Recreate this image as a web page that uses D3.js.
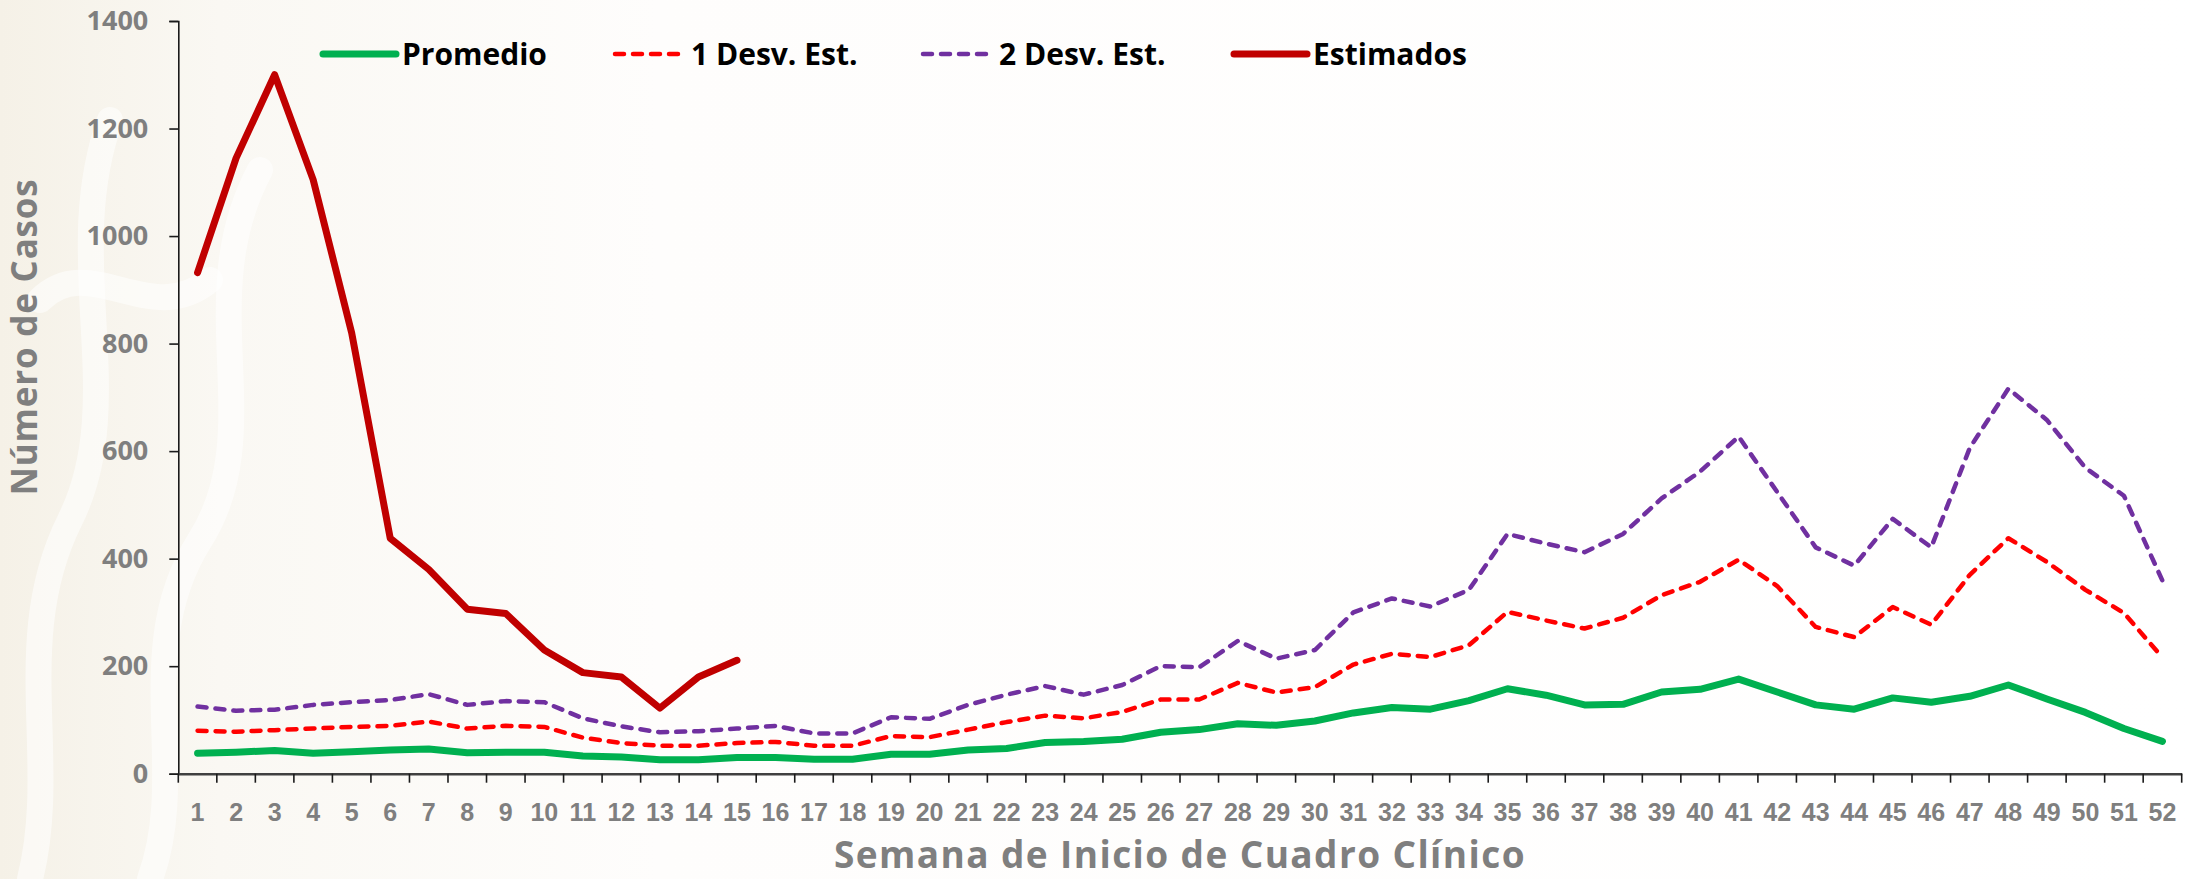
<!DOCTYPE html>
<html>
<head>
<meta charset="utf-8">
<script src="https://cdn.jsdelivr.net/npm/d3@7"></script>
<style>
  html, body { margin: 0; padding: 0; background: #ffffff; }
  svg { display: block; }
</style>
</head>
<body>
<svg id="chart" width="2192" height="879"></svg>
<script>
// ---------------- DATA ----------------
const weeks = ["1","2","3","4","5","6","7","8","9","10","11","12","13","14","15","16","17","18","19","20",
  "21","22","23","24","25","26","27","28","29","30","31","32","33","34","35","36","37","38","39","40",
  "41","42","43","44","45","46","47","48","49","50","51","52"];

const promedio = [38,40,43,38,41,44,46,39,40,40,33,31,26,26,30,30,27,27,36,36,
  44,47,58,60,64,77,82,93,90,98,113,123,120,136,158,146,128,129,152,157,
  176,152,128,120,141,133,144,165,139,114,84,60];

const desv1 = [80,78,81,84,87,89,97,84,89,87,67,57,52,52,57,59,52,52,70,68,
  82,96,108,103,115,138,138,169,151,161,203,223,217,239,301,285,270,290,332,357,
  398,349,273,254,310,277,370,438,394,342,299,216];

const desv2 = [125,117,119,128,133,137,148,128,135,133,103,88,77,79,84,89,75,75,105,102,
  128,147,163,147,165,200,198,247,214,230,300,326,311,342,446,428,412,446,512,562,
  627,524,421,387,474,421,606,716,658,569,517,359];

const estimados = [932,1145,1300,1105,820,438,380,306,298,230,188,180,122,180,211];

const yTicks = [0,200,400,600,800,1000,1200,1400];

const seriesNames = ["Promedio","1 Desv. Est.","2 Desv. Est.","Estimados"];
const seriesColors = ["#00B050","#FF0000","#7030A0","#C00000"];

// ---------------- LAYOUT ----------------
const svg = d3.select("#chart");
const W = 2192, H = 879;
const mLeft = 178.3, mRight = 2181.7, mTop = 21, mBottom = 773.7;

// faint background watermark (decorative)
const defs = svg.append("defs");
const grad = defs.append("linearGradient").attr("id","wmGrad").attr("x1","0").attr("x2","1").attr("y1","0").attr("y2","0");
grad.append("stop").attr("offset","0").attr("stop-color","#F5F1E7");
grad.append("stop").attr("offset","0.1").attr("stop-color","#FAF8F3");
grad.append("stop").attr("offset","0.3").attr("stop-color","#FEFDFC");
grad.append("stop").attr("offset","1").attr("stop-color","#FFFFFF");
const bg = svg.append("g").attr("class","watermark");
bg.append("rect").attr("width",W).attr("height",H).attr("fill","url(#wmGrad)");
const wmPaths = [
  "M30,879 C60,760 10,640 70,520 C130,400 60,260 110,120",
  "M150,879 C190,770 130,650 200,540 C270,430 190,300 260,170",
  "M40,300 C90,250 150,330 210,280"
];
bg.selectAll("path").data(wmPaths).join("path")
  .attr("d", d => d)
  .attr("fill","none")
  .attr("stroke","#FFFFFF")
  .attr("stroke-width",26)
  .attr("stroke-linecap","round")
  .attr("opacity",0.55);

// scales
const x = d3.scaleBand().domain(weeks).range([mLeft,mRight]).padding(0);
const xc = d => x(d) + x.bandwidth()/2;
const y = d3.scaleLinear().domain([0,1400]).range([mBottom, mTop]);

// ---------------- AXES ----------------
const yAxis = d3.axisLeft(y).tickValues(yTicks).tickSize(9).tickPadding(21).tickFormat(d3.format("d"));
const gy = svg.append("g").attr("transform",`translate(${mLeft},0)`).call(yAxis);
gy.select(".domain").attr("stroke","#1a1a1a").attr("stroke-width",1.6);
gy.selectAll(".tick line").attr("stroke","#1a1a1a").attr("stroke-width",1.6);
gy.selectAll(".tick text")
  .attr("fill","#7F7F7F")
  .style("font-family","'Open Sans', sans-serif")
  .style("font-weight","700")
  .style("font-size","27px");

const gx = svg.append("g").attr("class","xaxis");
const xAxis = d3.axisBottom(x).tickSize(0).tickPadding(30);
const gxa = gx.append("g").attr("transform",`translate(0,${mBottom})`).call(xAxis);
gxa.select(".domain").attr("stroke","#404040").attr("stroke-width",2.4);
gxa.selectAll(".tick text")
  .attr("fill","#7F7F7F")
  .attr("dy","0")
  .attr("y",47)
  .style("font-family","'Liberation Sans', Arial, sans-serif")
  .style("font-weight","700")
  .style("font-size","25px");
const boundaries = weeks.map(w => x(w)).concat([x(weeks[weeks.length-1]) + x.bandwidth()]);
gx.selectAll("line.btick").data(boundaries).join("line")
  .attr("class","btick")
  .attr("x1",d=>d).attr("x2",d=>d)
  .attr("y1",mBottom).attr("y2",mBottom+9)
  .attr("stroke","#1a1a1a").attr("stroke-width",1.6);

// axis titles
svg.append("text")
  .attr("transform","translate(37,337) rotate(-90)")
  .attr("text-anchor","middle")
  .attr("fill","#7F7F7F")
  .style("font-family","'Open Sans', sans-serif")
  .style("font-weight","700")
  .style("font-size","35px")
  .style("letter-spacing","0.8px")
  .text("Número de Casos");

svg.append("text")
  .attr("x",(mLeft+mRight)/2).attr("y",868)
  .attr("text-anchor","middle")
  .attr("fill","#7F7F7F")
  .style("font-family","'Open Sans', sans-serif")
  .style("font-weight","700")
  .style("font-size","37px")
  .style("letter-spacing","1.4px")
  .text("Semana de Inicio de Cuadro Clínico");

// ---------------- LINES ----------------
const line = d3.line().x(d => xc(d.w)).y(d => y(d.v));
const toPts = arr => arr.map((v,i) => ({w: weeks[i], v}));

const plot = svg.append("g");
plot.append("path").datum(toPts(desv2))
  .attr("d",line).attr("fill","none")
  .attr("stroke",seriesColors[2]).attr("stroke-width",4.5)
  .attr("stroke-dasharray","9,9").attr("stroke-linecap","round").attr("stroke-linejoin","round");
plot.append("path").datum(toPts(desv1))
  .attr("d",line).attr("fill","none")
  .attr("stroke",seriesColors[1]).attr("stroke-width",4.5)
  .attr("stroke-dasharray","9,9").attr("stroke-linecap","round").attr("stroke-linejoin","round");
plot.append("path").datum(toPts(promedio))
  .attr("d",line).attr("fill","none")
  .attr("stroke",seriesColors[0]).attr("stroke-width",7)
  .attr("stroke-linecap","round").attr("stroke-linejoin","round");
plot.append("path").datum(toPts(estimados))
  .attr("d",line).attr("fill","none")
  .attr("stroke",seriesColors[3]).attr("stroke-width",7)
  .attr("stroke-linecap","round").attr("stroke-linejoin","round");

// ---------------- LEGEND ----------------
const legendX = [323, 615, 923, 1234];
const legend = svg.append("g").attr("class","legend");
seriesNames.forEach((name,i) => {
  const g = legend.append("g").attr("transform",`translate(${legendX[i]},54)`);
  const dashed = (i===1 || i===2);
  g.append("line").attr("x1",0).attr("x2",dashed?70:73).attr("y1",0).attr("y2",0)
    .attr("stroke",seriesColors[i]).attr("stroke-width",dashed?4.5:7)
    .attr("stroke-linecap","round")
    .attr("stroke-dasharray",dashed?"9,9":null);
  g.append("text").attr("x",dashed?76:79).attr("y",10.5)
    .attr("fill","#000000")
    .style("font-family","'Open Sans', sans-serif")
    .style("font-weight","700")
    .style("font-size","30px")
    .text(name);
});
</script>
</body>
</html>
